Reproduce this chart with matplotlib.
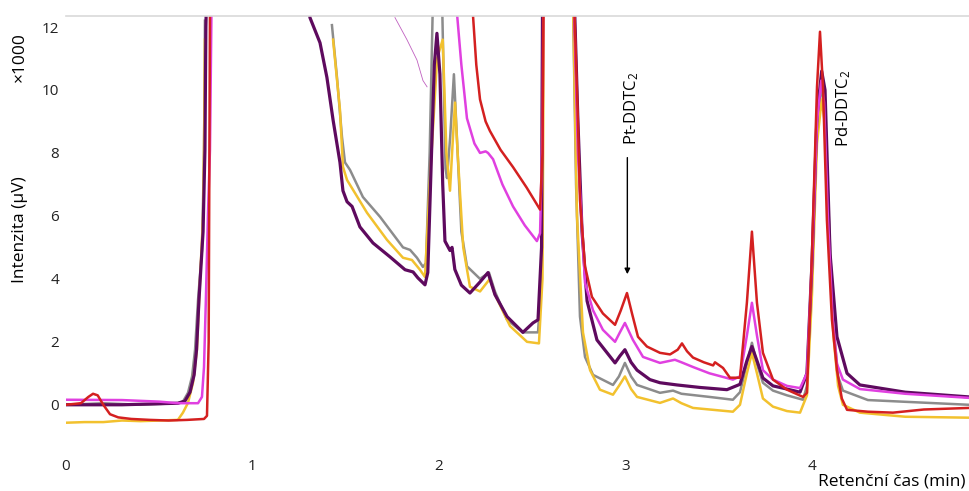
import numpy as np
import matplotlib
matplotlib.use("Agg")
import matplotlib.pyplot as plt

nan = np.nan

# (retention time in min, intensity in x1000 uV)
red = [(0, 0.0), (0.08, 0.05), (0.12, 0.25), (0.145, 0.35), (0.17, 0.3), (0.20, 0.0),
       (0.236, -0.3), (0.28, -0.4), (0.35, -0.45), (0.45, -0.48), (0.55, -0.5), (0.65, -0.48),
       (0.74, -0.45), (0.756, -0.35), (0.765, 2), (0.772, 12.5), (0.78, 30), (1.5, 30),
       (2.182, 12.4), (2.20, 10.8), (2.22, 9.7), (2.25, 9.0), (2.273, 8.7), (2.33, 8.1),
       (2.397, 7.55), (2.47, 6.9), (2.542, 6.2), (2.555, 8), (2.568, 20), (2.65, 30),
       (2.718, 14), (2.745, 9), (2.756, 6.5), (2.783, 4.4), (2.820, 3.43), (2.879, 2.9),
       (2.944, 2.54), (2.975, 3.0), (3.008, 3.55), (3.035, 2.9), (3.067, 2.16), (3.115, 1.85),
       (3.185, 1.65), (3.239, 1.6), (3.28, 1.75), (3.303, 1.95), (3.33, 1.7), (3.362, 1.5),
       (3.42, 1.35), (3.47, 1.25), (3.48, 1.35), (3.523, 1.17), (3.56, 0.86), (3.614, 0.86),
       (3.651, 3.24), (3.678, 5.5), (3.705, 3.24), (3.737, 1.65), (3.791, 0.8), (3.866, 0.48),
       (3.952, 0.25), (3.973, 0.38), (4.0, 4.8), (4.027, 10.1), (4.043, 11.85), (4.059, 10.1),
       (4.08, 5.87), (4.107, 2.7), (4.134, 1.1), (4.16, 0.2), (4.188, -0.16), (4.30, -0.22),
       (4.434, -0.25), (4.60, -0.15), (4.842, -0.1)]

magenta = [(0, 0.16), (0.3, 0.15), (0.5, 0.1), (0.6, 0.05), (0.708, 0.05), (0.729, 0.25),
           (0.74, 1.2), (0.750, 3.33), (0.761, 6), (0.772, 8.1), (0.78, 12.5), (0.80, 25),
           (1.5, 30), (2.097, 12.4), (2.12, 10.8), (2.15, 9.1), (2.19, 8.3), (2.22, 8.0),
           (2.25, 8.05), (2.263, 8.0), (2.29, 7.8), (2.34, 7.0), (2.397, 6.3), (2.46, 5.7),
           (2.525, 5.2), (2.542, 5.45), (2.556, 9), (2.566, 20), (2.65, 30), (2.718, 14),
           (2.745, 8), (2.783, 3.87), (2.826, 3.0), (2.879, 2.38), (2.944, 2.0), (2.97, 2.3),
           (2.997, 2.6), (3.040, 2.06), (3.094, 1.52), (3.185, 1.33), (3.265, 1.43), (3.30, 1.35),
           (3.362, 1.2), (3.45, 1.0), (3.576, 0.8), (3.614, 0.9), (3.651, 2.2), (3.678, 3.24),
           (3.705, 2.2), (3.737, 1.1), (3.791, 0.8), (3.866, 0.6), (3.936, 0.53), (3.973, 1.0),
           (4.0, 4.5), (4.027, 9.0), (4.05, 10.3), (4.065, 9.6), (4.085, 6), (4.11, 2.8),
           (4.134, 1.3), (4.166, 0.8), (4.257, 0.5), (4.5, 0.35), (4.842, 0.22)]

# thin stray magenta trace near 1.8 min
magenta_thin = [(1.764, 12.3), (1.828, 11.6), (1.882, 10.95), (1.914, 10.3), (1.936, 10.1)]

gray = [(0, 0.0), (0.2, 0.05), (0.4, 0.0), (0.6, 0.05), (0.627, 0.1), (0.654, 0.38),
        (0.676, 0.9), (0.692, 1.75), (0.708, 3.33), (0.729, 4.9), (0.735, 6.5), (0.74, 8.1),
        (0.743, 10), (0.745, 12.2), (0.75, nan), (1.426, 12.06), (1.453, 10.4), (1.480, 8.5),
        (1.496, 7.7), (1.523, 7.46), (1.592, 6.6), (1.684, 5.97), (1.807, 5.0), (1.845, 4.92),
        (1.882, 4.67), (1.914, 4.38), (1.93, 4.5), (1.95, 8), (1.968, 13), (2.0, 14),
        (2.016, 13), (2.035, 7.5), (2.043, 7.2), (2.06, 8.5), (2.080, 10.5), (2.10, 8),
        (2.12, 5.5), (2.150, 4.4), (2.220, 4.0), (2.268, 4.2), (2.30, 3.6), (2.365, 2.7),
        (2.450, 2.3), (2.531, 2.3), (2.55, 4), (2.558, 20), (2.65, 30), (2.715, 14),
        (2.735, 7), (2.756, 2.8), (2.783, 1.52), (2.826, 0.95), (2.933, 0.63), (2.965, 0.9),
        (2.997, 1.33), (3.03, 0.9), (3.062, 0.63), (3.185, 0.38), (3.255, 0.45), (3.30, 0.35),
        (3.45, 0.25), (3.576, 0.16), (3.614, 0.4), (3.651, 1.3), (3.678, 1.97), (3.705, 1.3),
        (3.737, 0.7), (3.791, 0.45), (3.866, 0.3), (3.952, 0.16), (3.973, 0.6), (4.0, 4.2),
        (4.027, 8.8), (4.052, 10.15), (4.07, 9.3), (4.09, 6), (4.115, 2.5), (4.14, 0.9),
        (4.166, 0.45), (4.30, 0.15), (4.842, 0.0)]

yellow = [(0, -0.57), (0.1, -0.55), (0.2, -0.55), (0.3, -0.5), (0.4, -0.52), (0.5, -0.5),
          (0.6, -0.48), (0.627, -0.25), (0.654, 0.06), (0.681, 0.7), (0.702, 1.75),
          (0.718, 3.87), (0.735, 6), (0.74, 8.1), (0.745, 11.6), (0.75, nan), (1.432, 11.6),
          (1.469, 9.37), (1.485, 7.56), (1.507, 7.14), (1.614, 6.1), (1.721, 5.24),
          (1.807, 4.67), (1.855, 4.6), (1.898, 4.29), (1.925, 4.06), (1.95, 7), (1.99, 11),
          (2.02, 11.6), (2.04, 8), (2.059, 6.8), (2.075, 8.5), (2.086, 9.6), (2.10, 8),
          (2.13, 5), (2.166, 3.75), (2.22, 3.6), (2.273, 4.0), (2.30, 3.5), (2.381, 2.5),
          (2.472, 2.0), (2.536, 1.95), (2.555, 4), (2.568, 20), (2.65, 30), (2.715, 14),
          (2.74, 6), (2.772, 2.3), (2.810, 1.1), (2.863, 0.48), (2.933, 0.32), (2.965, 0.6),
          (2.997, 0.9), (3.03, 0.5), (3.062, 0.25), (3.185, 0.06), (3.255, 0.2), (3.30, 0.05),
          (3.362, -0.1), (3.576, -0.22), (3.614, 0.0), (3.651, 1.0), (3.678, 1.65),
          (3.705, 1.0), (3.737, 0.2), (3.791, -0.06), (3.866, -0.2), (3.936, -0.25),
          (3.973, 0.3), (4.0, 3.5), (4.027, 8.3), (4.052, 9.7), (4.07, 8.9), (4.09, 5.5),
          (4.115, 2.2), (4.14, 0.6), (4.166, 0.0), (4.257, -0.25), (4.5, -0.38), (4.842, -0.41)]

purple = [(0, 0.0), (0.3, 0.0), (0.6, 0.05), (0.638, 0.12), (0.665, 0.4), (0.687, 0.95),
          (0.70, 1.75), (0.713, 3.33), (0.735, 5.5), (0.745, 8.1), (0.75, 12), (0.8, 25),
          (1.0, 30), (1.2, 25), (1.308, 12.3), (1.362, 11.5), (1.399, 10.4), (1.432, 9.05),
          (1.469, 7.7), (1.485, 6.8), (1.507, 6.45), (1.534, 6.3), (1.576, 5.65), (1.646, 5.14),
          (1.737, 4.7), (1.818, 4.29), (1.861, 4.22), (1.887, 4.03), (1.925, 3.81), (1.94, 4.2),
          (1.96, 8), (1.975, 10.8), (1.989, 11.8), (2.005, 10.5), (2.02, 7), (2.032, 5.2),
          (2.059, 4.9), (2.07, 5.0), (2.085, 4.3), (2.12, 3.8), (2.166, 3.55), (2.22, 3.9),
          (2.263, 4.2), (2.30, 3.5), (2.365, 2.8), (2.45, 2.3), (2.504, 2.6), (2.531, 2.7),
          (2.55, 5), (2.56, 20), (2.65, 30), (2.72, 14), (2.745, 9), (2.767, 5.5), (2.794, 3.3),
          (2.847, 2.06), (2.944, 1.33), (2.97, 1.55), (2.997, 1.75), (3.03, 1.35), (3.062, 1.1),
          (3.131, 0.8), (3.185, 0.7), (3.276, 0.63), (3.4, 0.55), (3.544, 0.48), (3.614, 0.65),
          (3.651, 1.4), (3.678, 1.85), (3.705, 1.4), (3.737, 0.85), (3.791, 0.6), (3.866, 0.5),
          (3.936, 0.4), (3.973, 1.0), (4.0, 4.5), (4.027, 9.2), (4.052, 10.6), (4.07, 10.0),
          (4.097, 4.8), (4.134, 2.16), (4.188, 1.0), (4.257, 0.63), (4.5, 0.4), (4.842, 0.25)]

plt.rcParams["font.family"] = ["Open Sans", "DejaVu Sans"]
plt.rcParams["mathtext.default"] = "regular"

fig = plt.figure(figsize=(9.69, 4.91), dpi=100)
ax = fig.add_axes([66 / 969, 39 / 491, 903 / 969, 436 / 491])


def trace(points, color, lw):
    t, i = zip(*points)
    ax.plot(t, i, color=color, lw=lw, solid_joinstyle="round")


trace(gray, "#8c8c8c", 1.8)
trace(yellow, "#f2c12e", 1.8)
trace(purple, "#5e0a5e", 2.3)
trace(magenta, "#e040e0", 1.8)
trace(magenta_thin, "#c060c0", 0.6)
trace(red, "#d42020", 1.8)

ax.set_xlim(0, 4.842)
ax.set_ylim(-1.5, 12.35)
ax.set_xticks([0, 1, 2, 3, 4])
ax.set_yticks([0, 2, 4, 6, 8, 10, 12])
ax.tick_params(length=0, labelsize=11, colors="#222222", pad=5)
for s in ["left", "right", "bottom"]:
    ax.spines[s].set_visible(False)
ax.spines["top"].set_color("#d9d9d9")
ax.spines["top"].set_linewidth(1.2)

# peak labels
ax.text(3.035, 8.25, "Pt-DDTC$_2$", rotation=90, ha="center", va="bottom", fontsize=12)
ax.annotate("", xy=(3.01, 4.06), xytext=(3.01, 7.94),
            arrowprops=dict(arrowstyle="-|>", color="black", lw=1.0, mutation_scale=8))
ax.text(4.17, 8.2, "Pd-DDTC$_2$", rotation=90, ha="center", va="bottom", fontsize=12)

fig.text(20 / 969, (491 - 230) / 491, "Intenzita (µV)", rotation=90, ha="center", va="center",
         fontsize=12.5)
fig.text(20 / 969, (491 - 57) / 491, "×1000", rotation=90, ha="center", va="center",
         fontsize=12.5)
fig.text(966 / 969, (491 - 482) / 491, "Retenční čas (min)", ha="right", va="center",
         fontsize=12.5)

fig.savefig("out.png", dpi=100)
